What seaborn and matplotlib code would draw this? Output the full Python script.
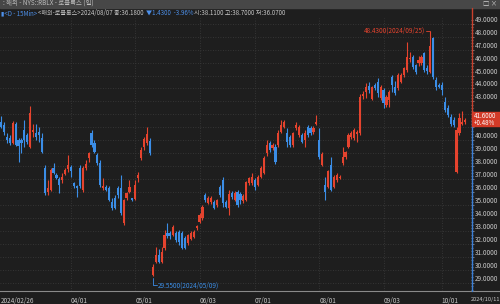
# -*- coding: utf-8 -*-
# RBLX daily candlestick chart, dark HTS-style window

import matplotlib
matplotlib.use("Agg")
import matplotlib.pyplot as plt
from matplotlib.lines import Line2D
from matplotlib.patches import Rectangle
from matplotlib.ticker import MultipleLocator
import numpy as np
import pandas as pd
import seaborn as sns

# ---------------- data ----------------
opens = [41.42, 41.20, 40.25, 40.20, 39.80, 41.30, 40.00, 40.03, 40.80, 40.42,
         39.49, 40.65, 40.57, 40.65, 40.19, 37.88, 36.00, 36.20, 37.85, 37.35,
         37.00, 36.95, 37.40, 37.80, 37.95, 36.70, 36.45, 37.90, 36.20, 37.85,
         38.65, 40.55, 39.80, 38.90, 38.25, 36.35, 36.40, 36.30, 35.25, 35.55,
         36.35, 36.30, 33.65, 35.55, 36.00, 35.56, 35.50, 37.10, 38.65, 39.50,
         39.80, 39.95, 29.65, 30.63, 31.15, 30.65, 31.70, 32.90, 32.90, 32.72,
         32.90, 32.95, 32.90, 32.50, 32.10, 32.40, 32.55, 33.25, 33.70, 34.00,
         35.80, 35.20, 35.25, 35.25, 35.05, 36.40, 36.95, 35.25, 34.80, 35.95,
         35.40, 36.00, 35.90, 35.30, 35.41, 36.75, 36.75, 36.95, 36.55, 37.20,
         37.50, 39.05, 39.80, 39.45, 39.50, 39.65, 40.65, 41.05, 40.57, 40.25,
         39.65, 40.95, 40.42, 40.42, 40.03, 41.03, 40.95, 40.65, 41.27, 40.00,
         38.10, 36.55, 36.40, 38.11, 36.40, 36.95, 37.10, 38.26, 38.72, 39.50,
         40.27, 40.20, 40.50, 40.57, 43.40, 43.73, 44.20, 43.19, 44.27, 44.50,
         43.30, 43.88, 42.73, 43.11, 44.89, 44.12, 44.04, 44.50, 45.04, 45.43,
         46.27, 46.43, 45.81, 45.95, 45.95, 46.70, 45.60, 45.30, 47.90, 44.66,
         44.27, 44.27, 42.96, 42.50, 41.80, 41.60, 37.60, 40.57, 41.25, 41.45]
highs = [41.90, 41.40, 40.60, 40.40, 41.50, 41.45, 40.20, 40.20, 41.57, 40.60,
         42.65, 41.30, 41.30, 41.00, 40.60, 38.10, 36.95, 37.90, 38.25, 37.50,
         37.20, 37.50, 37.85, 38.90, 38.10, 36.80, 36.55, 38.10, 38.00, 38.50,
         39.10, 40.80, 40.00, 39.00, 38.50, 37.10, 36.60, 36.50, 35.55, 35.80,
         36.50, 37.30, 35.50, 36.00, 36.95, 35.60, 36.95, 37.60, 39.50, 40.30,
         41.05, 40.20, 30.50, 31.80, 31.60, 31.80, 33.10, 33.65, 33.00, 33.50,
         33.00, 33.10, 33.00, 32.60, 32.80, 33.00, 33.10, 33.50, 34.40, 35.00,
         35.95, 35.70, 35.70, 35.40, 35.50, 36.55, 37.20, 35.40, 36.20, 36.10,
         36.10, 36.15, 36.00, 35.85, 36.90, 37.20, 37.50, 37.10, 37.30, 38.00,
         38.80, 40.00, 39.95, 39.80, 39.70, 40.80, 41.60, 41.60, 40.95, 40.40,
         40.65, 41.40, 41.20, 40.60, 40.80, 41.20, 41.10, 41.10, 41.95, 40.95,
         39.10, 37.20, 37.75, 38.70, 37.30, 37.50, 37.35, 39.50, 39.20, 40.57,
         40.70, 40.95, 40.80, 43.60, 43.80, 44.40, 44.50, 44.20, 44.40, 44.80,
         44.30, 44.00, 43.50, 43.90, 45.05, 44.60, 45.20, 45.20, 45.66, 47.60,
         46.80, 46.60, 45.90, 46.50, 46.60, 46.80, 45.80, 48.43, 48.00, 44.90,
         44.40, 44.50, 43.35, 42.70, 42.00, 41.80, 41.00, 42.10, 42.25, 41.75]
lows = [40.95, 40.40, 39.80, 39.65, 39.70, 39.55, 38.35, 39.03, 39.49, 39.70,
        39.40, 40.30, 40.03, 39.90, 39.03, 35.80, 35.80, 36.10, 37.40, 37.00,
        35.95, 36.70, 37.30, 37.60, 37.20, 36.35, 35.65, 36.30, 36.00, 37.70,
        38.35, 39.50, 39.00, 38.10, 36.40, 36.20, 36.10, 35.30, 34.65, 34.70,
        35.60, 34.25, 33.50, 35.40, 35.95, 35.30, 35.40, 36.80, 38.50, 39.30,
        39.65, 38.90, 29.55, 30.55, 30.55, 30.55, 31.55, 32.50, 32.40, 32.60,
        32.20, 31.95, 31.60, 31.60, 31.95, 32.30, 32.50, 33.10, 33.65, 33.90,
        35.25, 35.10, 35.10, 34.70, 34.90, 35.65, 34.90, 34.80, 34.25, 35.50,
        35.30, 34.90, 35.10, 35.20, 35.30, 36.60, 36.60, 36.20, 36.45, 37.10,
        37.40, 38.80, 39.10, 39.30, 38.20, 39.50, 40.55, 40.95, 39.50, 39.50,
        39.50, 40.80, 40.27, 39.80, 39.50, 40.30, 40.45, 40.50, 41.20, 38.60,
        38.00, 35.40, 36.30, 36.07, 36.30, 36.80, 37.00, 38.10, 38.60, 39.40,
        40.10, 40.03, 39.90, 40.40, 43.20, 43.27, 43.65, 43.10, 43.90, 43.35,
        43.10, 42.50, 42.60, 42.58, 43.73, 43.50, 43.90, 44.40, 44.89, 45.30,
        46.05, 45.50, 45.10, 45.70, 45.80, 45.30, 45.10, 45.20, 44.70, 43.90,
        44.00, 43.50, 42.20, 41.80, 41.10, 41.00, 37.50, 40.40, 41.20, 41.30]
closes = [41.03, 40.65, 40.05, 39.80, 41.35, 39.65, 39.60, 39.80, 40.03, 39.88,
          42.11, 40.80, 40.27, 40.42, 39.11, 35.95, 36.30, 37.70, 37.50, 37.10,
          36.55, 37.20, 37.70, 38.10, 37.65, 36.50, 36.30, 36.50, 37.90, 38.20,
          39.05, 39.65, 39.10, 38.25, 36.55, 36.50, 36.20, 35.40, 34.80, 34.80,
          35.80, 34.40, 35.40, 35.95, 36.40, 35.41, 36.55, 37.30, 39.26, 40.10,
          40.50, 39.00, 30.25, 31.17, 30.65, 31.40, 32.70, 32.60, 32.60, 33.33,
          32.33, 32.18, 31.70, 31.75, 32.70, 32.90, 32.95, 33.40, 34.25, 34.85,
          35.40, 35.55, 35.55, 34.80, 35.40, 35.80, 35.20, 34.90, 35.90, 35.65,
          35.95, 35.05, 35.40, 35.70, 36.80, 37.10, 37.20, 36.40, 37.20, 37.90,
          38.65, 39.65, 39.25, 39.65, 38.35, 40.57, 41.20, 41.42, 39.90, 39.65,
          40.57, 41.20, 41.03, 39.90, 40.57, 40.42, 40.57, 40.95, 41.42, 38.70,
          38.95, 36.03, 37.61, 36.18, 37.20, 37.34, 37.20, 38.72, 39.11, 40.42,
          40.57, 40.80, 40.65, 43.35, 43.60, 44.12, 43.88, 44.12, 44.04, 43.65,
          44.10, 42.88, 43.35, 43.73, 44.27, 43.65, 45.04, 45.04, 45.58, 46.43,
          46.35, 45.66, 45.27, 46.20, 46.43, 45.43, 45.35, 47.30, 44.89, 44.12,
          44.12, 43.88, 42.34, 41.95, 41.30, 41.15, 40.80, 41.72, 41.40, 41.60]

holidays = ["2024-03-29", "2024-05-27", "2024-06-19", "2024-07-04", "2024-09-02"]
month_dates = ["2024-02-26", "2024-04-01", "2024-05-01", "2024-06-03",
               "2024-07-01", "2024-08-01", "2024-09-03", "2024-10-01"]
month_labels = ["2024/02/26", "04/01", "05/01", "06/03", "07/01", "08/01", "09/03", "10/01"]
end_label = "2024/10/11"
price_ticks = list(range(29, 50))

title_text = "해외 - NYS::RBLX - 로블록스 (일)"
info_parts = [("▮<D - 15Min> ", "blue"),
              ("<해외-로블록스>2024/08/07 종:36.1800 ", "gray"),
              ("▼1.4300  -3.96% ", "blue"),
              ("시:38.1100 고:38.7000 저:36.0700", "gray")]
last_price = "41.6000"
last_change = "+0.48%"
max_note = "48.4300(2024/09/25)"
min_note = "29.5500(2024/05/09)"

# ---------------- style ----------------
BG = "#1e1e1e"
RED = "#e5432e"
BLUE = "#3b8de6"
TXT = "#c8c8c8"
GRID = "#3c3c3c"

sns.set_theme(style="dark", rc={"axes.facecolor": BG, "figure.facecolor": BG,
                                "savefig.facecolor": BG})
plt.rcParams["font.family"] = ["Noto Sans CJK KR", "DejaVu Sans"]

days = pd.bdate_range("2024-02-26", "2024-10-11")
days = days[~days.isin(pd.to_datetime(holidays))]
df = pd.DataFrame({"date": days, "open": opens, "high": highs,
                   "low": lows, "close": closes})
df["x"] = np.arange(len(df))
df["up"] = df["close"] >= df["open"]
df["color"] = np.where(df["up"], RED, BLUE)

W, H = 500, 304
fig = plt.figure(figsize=(W / 100, H / 100), dpi=100)
ax = fig.add_axes([0, (H - 291) / H, 471 / W, 273 / H])

# candles
ax.vlines(df["x"], df["low"], df["high"], colors=df["color"], lw=0.8, zorder=3)
body_lo = df[["open", "close"]].min(axis=1)
body_h = (df["close"] - df["open"]).abs().clip(lower=0.06)
ax.bar(df["x"], body_h, bottom=body_lo, width=0.74, color=df["color"],
       linewidth=0, zorder=4)

ax.set_xlim(-0.34, 160.96)
ax.set_ylim(28.40, 49.43)

# grid
for v in price_ticks:
    ax.axhline(v, color=GRID, lw=0.6, ls=(0, (1, 2)), zorder=1)
pos = {d: i for i, d in enumerate(df["date"].dt.strftime("%Y-%m-%d"))}
month_x = [pos[d] for d in month_dates]
for x in month_x[1:]:
    ax.axvline(x, color=GRID, lw=0.6, ls=(0, (1, 2)), zorder=1)
ax.grid(False)

# y axis on the right (labels under the last-price box are hidden)
ax.yaxis.tick_right()
ax.set_yticks(price_ticks)
ax.set_yticklabels(["" if abs(v - closes[-1]) < 1 else f"{v:.4f}" for v in price_ticks])
ax.yaxis.set_minor_locator(MultipleLocator(0.25))
ax.tick_params(axis="y", which="major", direction="out", length=2.2, width=0.6,
               color="#8c8c8c", labelsize=4.6, labelcolor=TXT, pad=0.4)
ax.tick_params(axis="y", which="minor", direction="out", length=1.2, width=0.5,
               color="#8c8c8c")
for t in ax.get_yticklabels():
    t.set_verticalalignment("bottom")

# x axis
ax.set_xticks(month_x + [160.96])
ax.set_xticklabels(month_labels + [end_label])
for t in ax.get_xticklabels():
    t.set_horizontalalignment("left")
week_first = df.groupby(df["date"].dt.to_period("W"))["x"].min().tolist()
ax.set_xticks(week_first, minor=True)
ax.tick_params(axis="x", which="major", direction="out", length=3, width=0.6,
               color="#9a9a9a", labelsize=4.6, labelcolor=TXT, pad=1)
ax.tick_params(axis="x", which="minor", direction="out", length=1.2, width=0.8,
               color="#9a9a9a")
ax.get_xticklabels()[-1].set_fontsize(4.1)
for s in ["top", "left", "right"]:
    ax.spines[s].set_visible(False)
ax.spines["bottom"].set_color("#8a8a8a")
ax.spines["bottom"].set_linewidth(0.8)
fig.add_artist(Line2D([471 / W, 1], [(H - 291) / H] * 2, color="#8a8a8a", lw=0.8))

# price axis line: red above last price, blue below
split = fig.transFigure.inverted().transform(ax.transData.transform((0, closes[-1])))[1]
xf = 471.5 / W
fig.add_artist(Line2D([xf, xf], [split, (H - 8) / H], color="#c8402c", lw=1.0))
fig.add_artist(Line2D([xf, xf], [(H - 291) / H, split], color="#3a7fd8", lw=1.0))

# last price box
box_h = 14 / H
fig.add_artist(Rectangle((472 / W, split - box_h / 2 + 1 / H), 28 / W, box_h,
                         transform=fig.transFigure, color="#d33a27", zorder=5))
fig.text(474 / W, split + 4 / H, last_price, color="white", fontsize=4.5,
         va="center", ha="left", zorder=6)
fig.text(474 / W, split - 3 / H, last_change, color="white", fontsize=4.5,
         va="center", ha="left", zorder=6)

# max / min notes
i_max = int(np.argmax(highs))
i_min = int(np.argmin(lows))
ax.plot([i_max - 1.6, i_max], [highs[i_max]] * 2, color=RED, lw=0.6, zorder=5)
ax.text(i_max - 1.8, highs[i_max], max_note, color=RED, fontsize=4.6,
        ha="right", va="center", zorder=6)
y_lo = lows[i_min] - 0.7
ax.plot([i_min, i_min, i_min + 1.4], [lows[i_min] - 0.15, y_lo, y_lo],
        color=BLUE, lw=0.6, zorder=5, clip_on=False)
ax.text(i_min + 1.6, y_lo, min_note, color=BLUE, fontsize=4.6,
        ha="left", va="center", zorder=6)

# title bar
fig.add_artist(Rectangle((0, (H - 8) / H), 1, 8 / H, transform=fig.transFigure,
                         color="#474747", zorder=0))
fig.text(3 / W, 1 - 4 / H, ": " + title_text, color="#bdbdbd", fontsize=4.6,
         va="center", ha="left")
fig.text(497 / W, 1 - 4 / H, "□ ×", color="#d0d0d0", fontsize=4.6,
         va="center", ha="right")

# info line with coloured pieces
fig.canvas.draw()
renderer = fig.canvas.get_renderer()
cur_x = 1 / W
col = {"blue": "#4d90ea", "gray": TXT}
for text, c in info_parts:
    t = fig.text(cur_x, 1 - 13 / H, text, color=col[c], fontsize=4.4,
                 va="center", ha="left")
    bb = t.get_window_extent(renderer)
    cur_x = bb.x1 / W

fig.savefig("out.png", dpi=100)
